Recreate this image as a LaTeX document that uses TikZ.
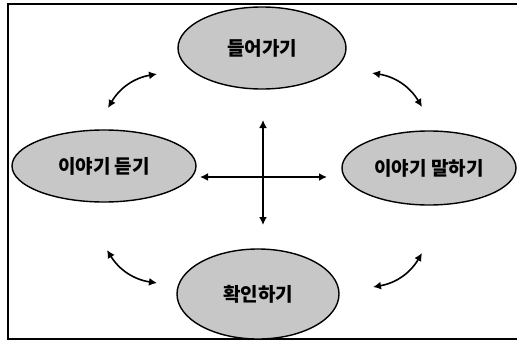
\documentclass[tikz,border=0pt]{standalone}
\usepackage{fontspec}
\newfontfamily\kr{Noto Sans CJK KR Black}
\usetikzlibrary{arrows.meta,shapes.geometric}
\begin{document}
\begin{tikzpicture}[x=1pt,y=-1pt,
  bub/.style={ellipse, draw=black, line width=1.4pt, fill=black!22, font=\kr\fontsize{19}{19}\selectfont, inner sep=0pt},
  arr/.style={line width=1.6pt, {Latex[length=8pt,width=8pt]}-{Latex[length=8pt,width=8pt]}}]
\useasboundingbox (0,0) rectangle (517,343);
\draw[line width=1.2pt] (517,4) -- (8,4) -- (8,339) -- (517,339);
\node[bub, minimum width=168, minimum height=82] (top) at (262,48) {들어가기};
\node[bub, minimum width=184, minimum height=72] (left) at (104,166) {이야기 듣기};
\node[bub, minimum width=174, minimum height=74] (right) at (429,168) {이야기 말하기};
\node[bub, minimum width=162, minimum height=90] (bot) at (258,294) {확인하기};
\coordinate (cx1) at (200,177); \coordinate (cx2) at (327,177);
\coordinate (cy1) at (263,120); \coordinate (cy2) at (263,225);
\draw[arr] (cx1) -- (cx2);
\draw[arr] (cy1) -- (cy2);
\coordinate (a1) at (108,108); \coordinate (a2) at (157,74);
\coordinate (b1) at (372,73); \coordinate (b2) at (422,107);
\coordinate (c1) at (107,250); \coordinate (c2) at (157,283);
\coordinate (d1) at (373,287); \coordinate (d2) at (422,253);
\draw[arr] (a1) to[bend left=25] (a2);
\draw[arr] (b1) to[bend left=25] (b2);
\draw[arr] (c1) to[bend right=25] (c2);
\draw[arr] (d1) to[bend right=25] (d2);
\end{tikzpicture}
\end{document}
